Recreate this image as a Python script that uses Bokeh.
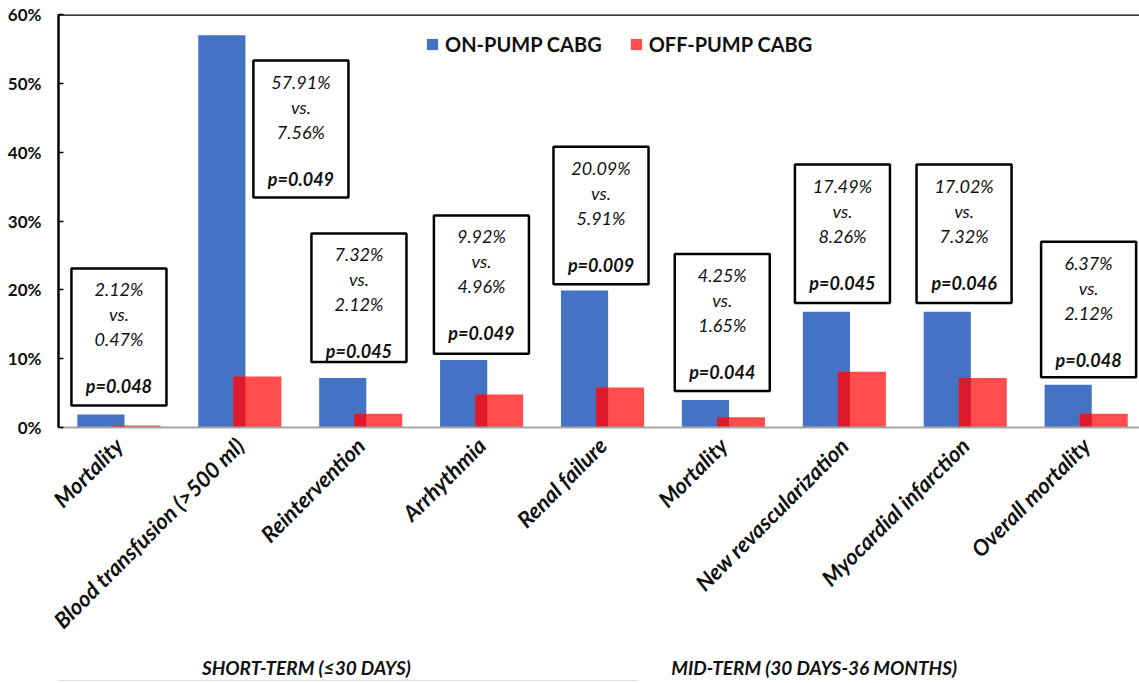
import math
from bokeh.plotting import figure
from bokeh.models import (Range1d, FixedTicker, PrintfTickFormatter, Span, LinearAxis,
                          Legend, LegendItem, CustomJSTickFormatter)
from bokeh.core.properties import value
from bokeh.embed import file_html
from bokeh.resources import INLINE

# ---------------- data ----------------
categories = ["Mortality", "Blood transfusion (>500 ml)", "Reintervention", "Arrhythmia",
              "Renal failure", "Mortality", "New revascularization",
              "Myocardial infarction", "Overall mortality"]
on_pump = [1.9, 57.0, 7.2, 9.8, 19.9, 4.0, 16.8, 16.8, 6.2]
off_pump = [0.3, 7.4, 2.0, 4.8, 5.8, 1.5, 8.1, 7.2, 2.0]
on_text = ["2.12%", "57.91%", "7.32%", "9.92%", "20.09%", "4.25%", "17.49%", "17.02%", "6.37%"]
off_text = ["0.47%", "7.56%", "2.12%", "4.96%", "5.91%", "1.65%", "8.26%", "7.32%", "2.12%"]
p_text = ["p=0.048", "p=0.049", "p=0.045", "p=0.049", "p=0.009", "p=0.044", "p=0.045",
          "p=0.046", "p=0.048"]
y_ticks = [0, 10, 20, 30, 40, 50, 60]
series_names = ["ON-PUMP CABG", "OFF-PUMP CABG"]
groups = ["SHORT-TERM (\u226430 DAYS)", "MID-TERM (30 DAYS-36 MONTHS)"]

# ---------------- layout (annotation boxes, group labels) ----------------
box_x = [0.0, 1.505, 1.985, 2.998, 3.987, 4.99, 5.984, 6.99, 8.02]
box_top = [23.1, 53.3, 28.2, 30.8, 40.8, 25.2, 38.2, 38.2, 27.0]
box_bottom = [3.2, 33.4, 9.5, 10.7, 20.8, 5.3, 18.1, 18.1, 7.3]
BOX_HALF = 0.393
group_x = [1.55, 5.75]

BLUE = "#4472C4"
RED = "#FF4D4D"
DARK_RED = "#DC1A2B"
FONT = "Lato"
INK = "#111111"

idx = list(range(len(categories)))
blue_off, red_off = -0.149, 0.145
blue_w, red_w = 0.39, 0.397

p = figure(width=1139, height=683, frame_width=1081, frame_height=413,
           x_range=Range1d(-0.5, 8.441), y_range=Range1d(0, 60),
           output_backend="svg", toolbar_location=None,
           min_border_left=58, min_border_right=0, min_border_top=14, min_border_bottom=0)
p.outline_line_color = None
p.xgrid.grid_line_color = None
p.ygrid.grid_line_color = None
p.background_fill_color = "white"
p.border_fill_color = "white"

# bars
bx = [i + blue_off for i in idx]
rx = [i + red_off for i in idx]
r_on = p.vbar(x=bx, top=on_pump, width=blue_w, fill_color=BLUE, line_color=None)
r_off = p.vbar(x=rx, top=off_pump, width=red_w, fill_color=RED, line_color=None)
# overlap region (red over blue appears darker)
ov_left = [i + red_off - red_w / 2 for i in idx]
ov_right = [i + blue_off + blue_w / 2 for i in idx]
ov_top = [min(a, b) for a, b in zip(on_pump, off_pump)]
p.quad(left=ov_left, right=ov_right, top=ov_top, bottom=[0] * len(idx),
       fill_color=DARK_RED, line_color=None)

# annotation boxes
p.quad(left=[x - BOX_HALF for x in box_x], right=[x + BOX_HALF for x in box_x],
       top=box_top, bottom=box_bottom, fill_color="white", line_color="black", line_width=2.5)
for texts, off, style in [(on_text, 21, "italic"), (["vs."] * len(idx), 46, "italic"),
                          (off_text, 71, "italic"), (p_text, 118, "bold italic")]:
    p.text(x=box_x, y=box_top, text=texts, y_offset=off, text_align="center",
           text_baseline="middle", text_font=value(FONT), text_font_style=style,
           text_font_size="18px", text_color=INK)

# top border line
p.add_layout(Span(location=60, dimension="width", line_color="black", line_width=2.5))

# y axis
yax = p.yaxis[0]
yax.ticker = FixedTicker(ticks=y_ticks)
yax.formatter = PrintfTickFormatter(format="%d%%")
yax.axis_line_color = "black"
yax.axis_line_width = 2.5
yax.major_tick_in = 5
yax.major_tick_out = 0
yax.major_tick_line_color = "black"
yax.major_tick_line_width = 1.5
yax.minor_tick_line_color = None
yax.major_label_text_font = FONT
yax.major_label_text_font_style = "bold"
yax.major_label_text_font_size = "17px"
yax.major_label_text_color = INK
yax.major_label_standoff = 17

# x axis (category names)
xax = p.xaxis[0]
xax.ticker = FixedTicker(ticks=idx)
xax.formatter = CustomJSTickFormatter(args=dict(names=categories),
                                      code="return names[Math.round(tick)] || '';")
xax.axis_line_color = "#A6A6A6"
xax.axis_line_width = 2
xax.major_tick_in = 0
xax.major_tick_out = 0
xax.minor_tick_line_color = None
xax.major_label_orientation = math.pi / 4
xax.major_label_text_font = FONT
xax.major_label_text_font_style = "bold italic"
xax.major_label_text_font_size = "22px"
xax.major_label_text_color = INK
xax.major_label_standoff = 14

# second axis: group labels
gax = LinearAxis(ticker=FixedTicker(ticks=group_x),
                 formatter=CustomJSTickFormatter(args=dict(names=groups),
                                                 code="return tick < 3 ? names[0] : names[1];"),
                 axis_line_color=None, major_tick_in=0, major_tick_out=0,
                 minor_tick_line_color=None, major_label_standoff=9,
                 major_label_text_font=FONT, major_label_text_font_style="bold italic",
                 major_label_text_font_size="19px", major_label_text_color=INK)
p.add_layout(gax, "below")

# third axis: just a rule under the short-term group
lax = LinearAxis(ticker=FixedTicker(ticks=[]), bounds=(-0.5, 4.29),
                 axis_line_color="#808080", axis_line_width=1.5,
                 major_tick_in=0, major_tick_out=0, minor_tick_line_color=None,
                 major_label_text_font_size="0px", major_label_standoff=0)
p.add_layout(lax, "below")

# legend
legend = Legend(items=[LegendItem(label=series_names[0], renderers=[r_on]),
                       LegendItem(label=series_names[1], renderers=[r_off])],
                orientation="horizontal", location=(367, 371), padding=0, margin=0,
                spacing=27, label_standoff=6, glyph_width=14, glyph_height=14,
                label_height=14, border_line_color=None, background_fill_alpha=0,
                label_text_font=FONT, label_text_font_style="bold",
                label_text_font_size="20px", label_text_color=INK)
p.add_layout(legend)

open("out.html", "w").write(file_html(p, INLINE))
